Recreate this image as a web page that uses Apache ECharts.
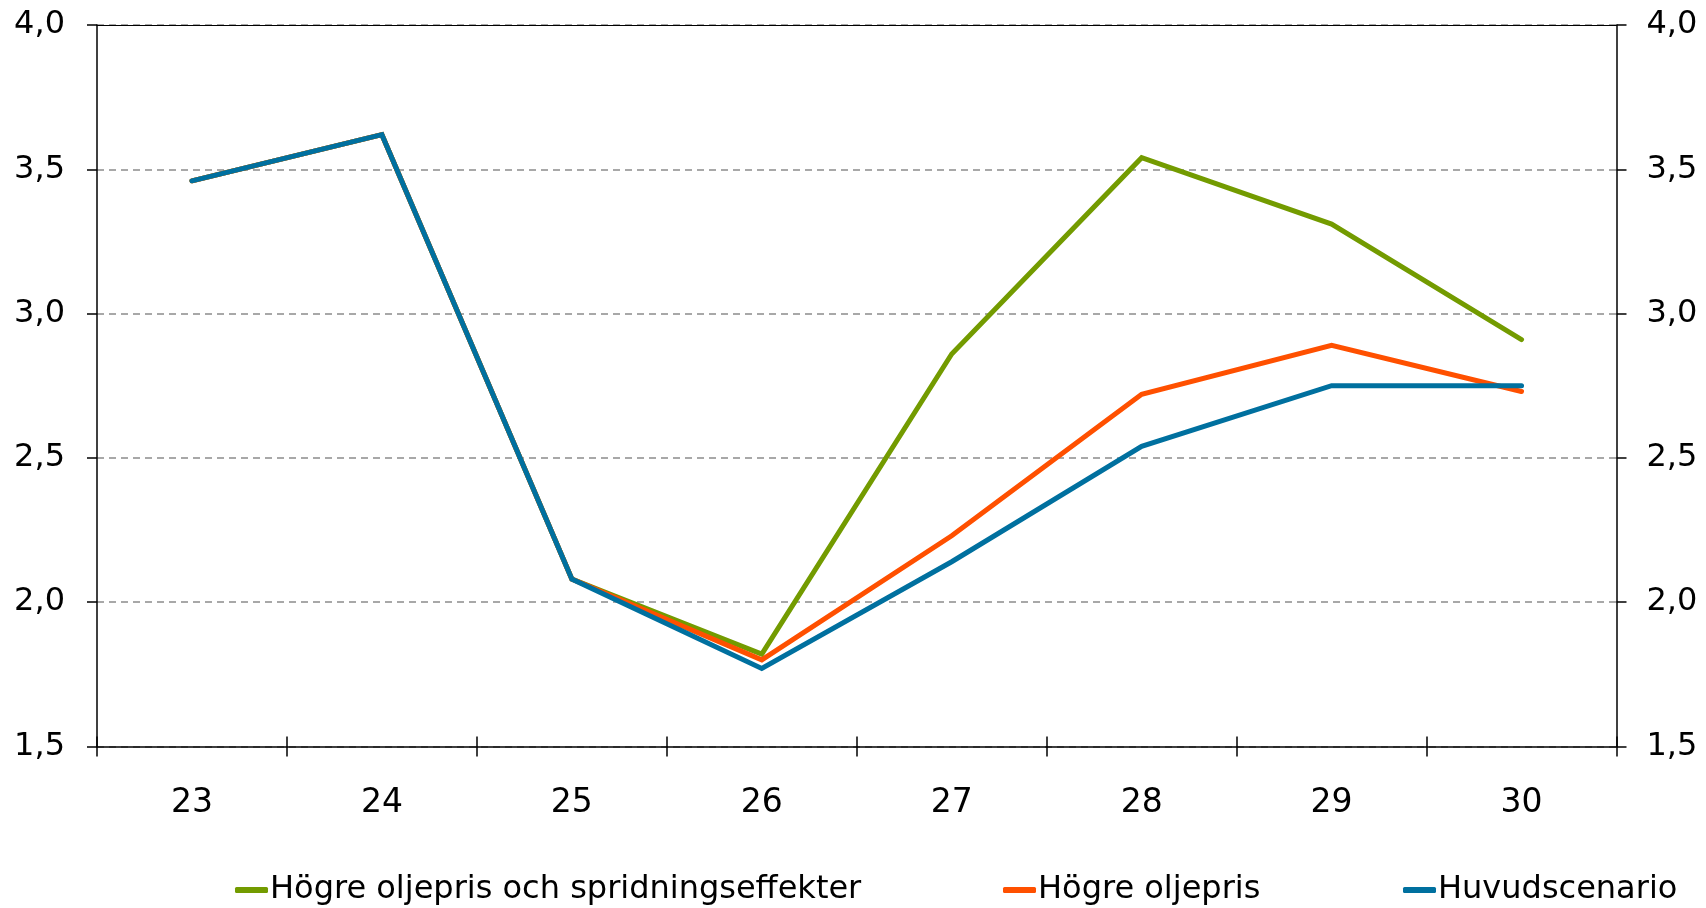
<!DOCTYPE html>
<html>
<head>
<meta charset="utf-8">
<script src="https://cdn.jsdelivr.net/npm/echarts@6/dist/echarts.min.js"></script>
<style>
  html, body { margin: 0; padding: 0; background: #ffffff; }
  #chart { width: 1706px; height: 908px; }
</style>
</head>
<body>
<div id="chart"></div>
<script>
// ---- Data ----
const categories = ['23', '24', '25', '26', '27', '28', '29', '30'];
const seriesNames = ['Högre oljepris och spridningseffekter', 'Högre oljepris', 'Huvudscenario'];
const greenValues  = [3.46, 3.62, 2.08, 1.82, 2.86, 3.54, 3.31, 2.91];
const orangeValues = [3.46, 3.62, 2.08, 1.80, 2.23, 2.72, 2.89, 2.73];
const blueValues   = [3.46, 3.62, 2.08, 1.77, 2.14, 2.54, 2.75, 2.75];
const yMin = 1.5, yMax = 4.0, yStep = 0.5;

// ---- Styles ----
const colors = ['#739B00', '#FF5000', '#00709F'];
const FONT = 'DejaVu Sans';
const fmt = v => v.toFixed(1).replace('.', ',');

const chart = echarts.init(document.getElementById('chart'), null, { renderer: 'canvas' });

const yAxisBase = {
  type: 'value', min: yMin, max: yMax, interval: yStep,
  axisLine: { show: true, lineStyle: { color: '#000', width: 1.5 } },
  axisTick: { show: true, inside: false, length: 10, lineStyle: { color: '#000', width: 1.5 } },
  axisLabel: { formatter: fmt, color: '#000', fontFamily: FONT, fontSize: 32 }
};

const option = {
  animation: false,
  backgroundColor: '#ffffff',
  color: colors,
  grid: { left: 97, right: 89.5, top: 25, bottom: 161.6, containLabel: false },
  legend: [
    { data: [seriesNames[0]], left: 235 },
    { data: [seriesNames[1]], left: 1003 },
    { data: [seriesNames[2]], left: 1403 }
  ].map(l => Object.assign(l, {
    top: 874, padding: 0, itemWidth: 33, itemHeight: 6, icon: 'roundRect',
    selectedMode: false,
    textStyle: { color: '#000', fontFamily: FONT, fontSize: 32, padding: [0, 0, 0, -3] }
  })),
  xAxis: [
    {
      type: 'category', data: categories, position: 'bottom', boundaryGap: true,
      axisLine: { show: true, onZero: false, lineStyle: { color: '#000', width: 1.5 } },
      axisTick: { show: true, inside: false, length: 10, lineStyle: { color: '#000', width: 1.5 } },
      axisLabel: { color: '#000', fontFamily: FONT, fontSize: 33, margin: 41 },
      splitLine: { show: false }
    },
    {
      type: 'category', data: categories, position: 'bottom', boundaryGap: true,
      axisLine: { show: false, onZero: false },
      axisTick: { show: true, inside: true, length: 10, lineStyle: { color: '#000', width: 1.5 } },
      axisLabel: { show: false },
      splitLine: { show: false }
    },
    {
      type: 'category', data: categories, position: 'top', boundaryGap: true,
      axisLine: { show: true, onZero: false, lineStyle: { color: '#000', width: 1.2 } },
      axisTick: { show: false },
      axisLabel: { show: false },
      splitLine: { show: false }
    }
  ],
  yAxis: [
    Object.assign({}, yAxisBase, {
      position: 'left',
      axisLabel: Object.assign({}, yAxisBase.axisLabel, { margin: 32 }),
      splitLine: { show: true, lineStyle: { color: '#8c8c8c', width: 1.5, type: [7, 5] } }
    }),
    Object.assign({}, yAxisBase, {
      position: 'right',
      axisLabel: Object.assign({}, yAxisBase.axisLabel, { margin: 30 }),
      splitLine: { show: false }
    })
  ],
  series: [
    { name: seriesNames[0], data: greenValues },
    { name: seriesNames[1], data: orangeValues },
    { name: seriesNames[2], data: blueValues }
  ].map((s, i) => Object.assign(s, {
    type: 'line', xAxisIndex: 0, yAxisIndex: 0, symbol: 'none',
    lineStyle: { color: colors[i], width: 5, cap: 'round', join: 'miter' },
    itemStyle: { color: colors[i] },
    emphasis: { disabled: true }
  }))
};

chart.setOption(option);
</script>
</body>
</html>
